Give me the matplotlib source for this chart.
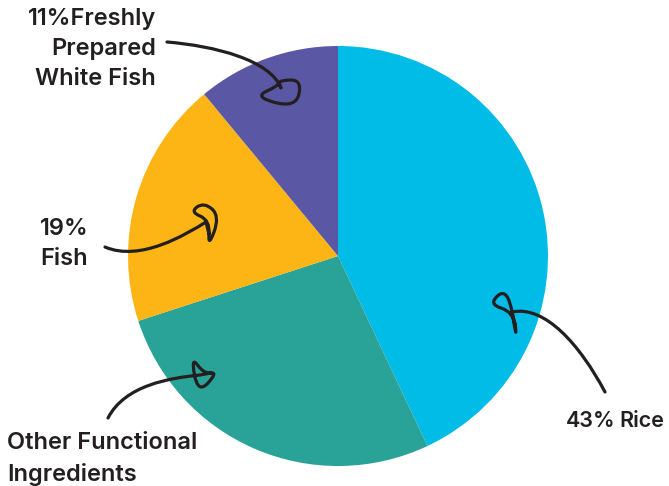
import numpy as np
import matplotlib.pyplot as plt
from matplotlib.path import Path
from matplotlib.patches import PathPatch

plt.rcParams['font.family'] = ['Inter', 'DejaVu Sans']

labels = ["43% Rice", "Other Functional\nIngredients", "19%\nFish", "11%Freshly\nPrepared\nWhite Fish"]
shares = [43, 27, 19, 11]
colors = ["#00BCE6", "#29A297", "#FDB515", "#5A57A5"]
ink = "#231F20"

W, H = 669, 486
fig = plt.figure(figsize=(W / 100, H / 100), dpi=100)
ax = fig.add_axes([0, 0, 1, 1])

# pixel coordinates, y pointing down
ax.pie(shares, colors=colors, startangle=-90, counterclock=True,
       center=(338, 256), radius=210, wedgeprops=dict(linewidth=0))
ax.set_xlim(0, W)
ax.set_ylim(H, 0)
ax.set_aspect('equal')
ax.axis('off')

txt = dict(fontsize=17, color=ink, fontweight='semibold', linespacing=1.45)
ax.text(156, 49, labels[3], ha='right', va='center', **txt)
ax.text(64, 244, labels[2], ha='center', va='center', **txt)
ax.text(7, 459, labels[1], ha='left', va='center', **txt)
# the rice label is set tight, as two words
pct, word = labels[0].split(" ")
small = dict(txt, fontsize=15.5)
ax.text(566, 427, pct, ha='left', va='baseline', **small)
ax.text(664, 427, word, ha='right', va='baseline', **small)


def scribble(line, loop):
    # line: 4 points of a cubic curve, loop: corner points of a rounded loop
    verts = list(line)
    codes = [Path.MOVETO, Path.CURVE4, Path.CURVE4, Path.CURVE4]
    pts = np.array(loop, dtype=float)
    n = len(pts)
    mids = [(pts[i] + pts[(i + 1) % n]) / 2 for i in range(n)]
    verts.append(tuple(mids[-1]))
    codes.append(Path.LINETO)
    for i in range(n):
        verts += [tuple(pts[i]), tuple(mids[i])]
        codes += [Path.CURVE3, Path.CURVE3]
    p = PathPatch(Path(verts, codes), fill=False, edgecolor=ink, lw=2.3,
                  capstyle='round', joinstyle='round')
    ax.add_patch(p)


scribble([(167, 42), (215, 46), (270, 60), (281, 88)],
         [(278, 86), (254, 97), (296, 108), (302, 80), (280, 80)])
scribble([(105, 247), (140, 262), (185, 235), (206, 222)],
         [(210, 220), (190, 212), (204, 202), (220, 216), (208, 248)])
scribble([(108, 418), (125, 385), (170, 378), (200, 375)],
         [(204, 374), (191, 356), (198, 394), (218, 372)])
scribble([(605, 392), (580, 345), (545, 305), (512, 312)],
         [(514, 312), (488, 304), (508, 287), (517, 342)])

fig.savefig("out.png", dpi=100)
